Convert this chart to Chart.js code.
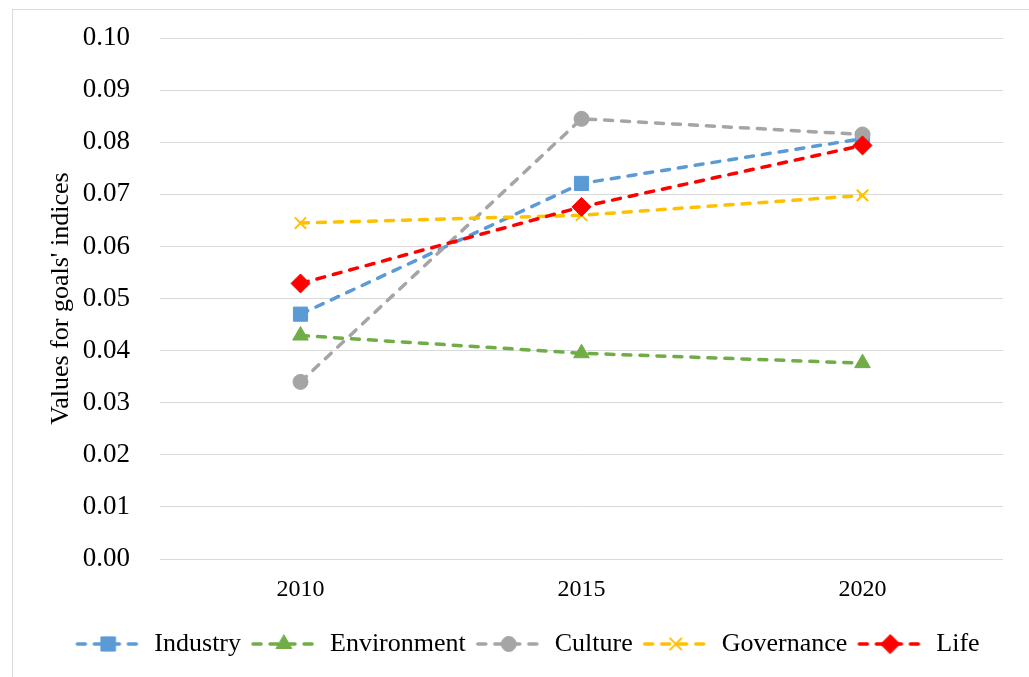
<!DOCTYPE html>
<html>
<head>
<meta charset="utf-8">
<script src="https://cdn.jsdelivr.net/npm/chart.js@4/dist/chart.umd.min.js"></script>
<style>
  html, body { margin: 0; padding: 0; background: #fff; overflow: hidden; }
  #frame { position: absolute; left: 12px; top: 9px; width: 1100px; height: 800px; border: 1px solid #d9d9d9; }
  #wrap { position: absolute; left: 0; top: 0; width: 1029px; height: 677px; }
</style>
</head>
<body>
<div id="frame"></div>
<div id="wrap"><canvas id="chart" width="1029" height="677"></canvas></div>
<script>
var years = ["2010", "2015", "2020"];

var industry = [0.0470, 0.0721, 0.0807];
var environment = [0.0429, 0.0395, 0.0376];
var culture = [0.0340, 0.0845, 0.0815];
var governance = [0.0645, 0.0660, 0.0698];
var life = [0.0529, 0.0676, 0.0794];

var blue = '#5b9bd5';
var green = '#70ad47';
var grey = '#a5a5a5';
var yellow = '#ffc000';
var red = '#ff0000';

var serif = "'Liberation Serif', 'Times New Roman', serif";

function series(label, data, color, style, radius, order) {
    return {
        label: label,
        data: data,
        borderColor: color,
        backgroundColor: color,
        borderWidth: 3.5,
        borderDash: [8, 9],
        borderCapStyle: 'round',
        pointStyle: style,
        pointRadius: radius,
        pointHoverRadius: radius,
        pointBorderWidth: style === 'crossRot' ? 2 : 1,
        pointBackgroundColor: color,
        pointBorderColor: color,
        order: order,
        tension: 0
    };
}

// legend sample: dashed line with the marker in the middle
function legendIcon(ds) {
    var c = document.createElement('canvas');
    c.width = 68;
    c.height = 22;
    var g = c.getContext('2d');
    g.strokeStyle = ds.borderColor;
    g.lineWidth = 3.5;
    g.lineCap = 'round';
    g.setLineDash([8, 9]);
    g.beginPath();
    g.moveTo(3, 11);
    g.lineTo(66, 11);
    g.stroke();
    g.setLineDash([]);
    g.fillStyle = ds.pointBackgroundColor;
    g.strokeStyle = ds.pointBorderColor;
    g.lineWidth = ds.pointBorderWidth;
    Chart.helpers.drawPoint(g, {
        pointStyle: ds.pointStyle,
        radius: ds.pointRadius,
        rotation: 0,
        borderWidth: ds.pointBorderWidth
    }, 34, 11);
    return c;
}

var datasets = [
    series("Industry", industry, blue, 'rect', 10, 5),
    series("Environment", environment, green, 'triangle', 9, 4),
    series("Culture", culture, grey, 'circle', 7.5, 3),
    series("Governance", governance, yellow, 'crossRot', 8, 2),
    series("Life", life, red, 'rectRot', 9.5, 1)
];

var ctx = document.getElementById("chart").getContext("2d");
var chart = new Chart(ctx, {
    type: 'line',
    data: { labels: years, datasets: datasets },
    options: {
        responsive: false,
        animation: false,
        events: [],
        layout: { padding: { left: 26, right: 0, top: 38, bottom: 10 } },
        scales: {
            x: {
                offset: true,
                grid: { display: false },
                border: { display: false },
                ticks: { color: '#000', font: { family: serif, size: 24 }, padding: 8 }
            },
            y: {
                min: 0,
                max: 0.1,
                afterFit: function (scale) { scale.width = 134; },
                grid: { color: '#d9d9d9', lineWidth: 1, drawTicks: false },
                border: { display: false },
                ticks: {
                    stepSize: 0.01,
                    color: '#000',
                    padding: 30,
                    font: { family: serif, size: 27, lineHeight: 0.6 },
                    callback: function (v) { return v.toFixed(2); }
                },
                title: {
                    display: true,
                    text: "Values for goals' indices",
                    color: '#000',
                    font: { family: serif, size: 26 },
                    padding: { top: 20, bottom: 0 }
                }
            },
            // empty right margin so the plot ends where the reference does
            yRight: {
                position: 'right',
                min: 0,
                max: 0.1,
                afterFit: function (scale) { scale.width = 26; },
                grid: { display: false },
                border: { display: false },
                ticks: { display: false }
            }
        },
        plugins: {
            tooltip: { enabled: false },
            legend: {
                position: 'bottom',
                // blank title only used as a spacer above the legend row
                title: { display: true, text: '', font: { size: 1 }, padding: { top: 8, bottom: 0 } },
                labels: {
                    color: '#000',
                    font: { family: serif, size: 26 },
                    usePointStyle: true,
                    pointStyleWidth: 66,
                    padding: 10,
                    generateLabels: function (ch) {
                        return ch.data.datasets.map(function (ds, i) {
                            return {
                                text: ds.label,
                                pointStyle: legendIcon(ds),
                                fillStyle: ds.borderColor,
                                strokeStyle: ds.borderColor,
                                lineWidth: 0,
                                fontColor: '#000',
                                hidden: false,
                                datasetIndex: i
                            };
                        });
                    }
                }
            }
        }
    }
});
</script>
</body>
</html>
